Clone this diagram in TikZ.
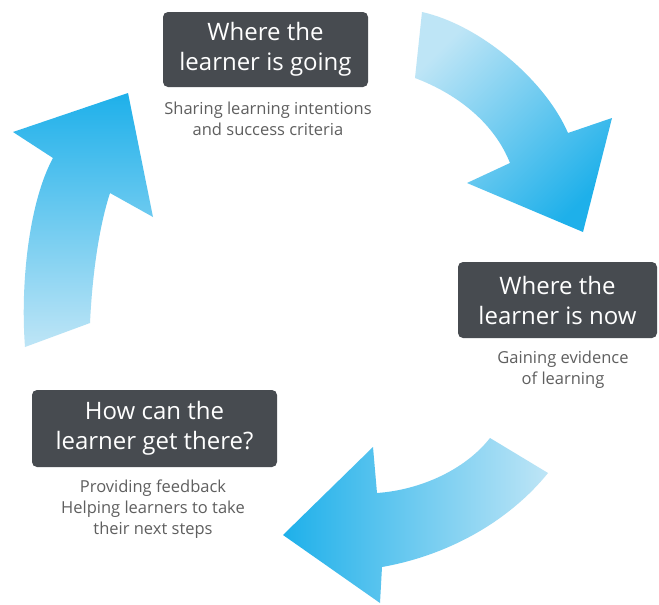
\documentclass[tikz,border=0pt]{standalone}
\usepackage{fontspec}
\setmainfont{Open Sans}
\definecolor{boxgrey}{RGB}{71,75,80}
\definecolor{capgrey}{RGB}{95,95,95}
\definecolor{arrowdeep}{RGB}{30,176,234}
\definecolor{arrowpale}{RGB}{190,229,246}
\begin{document}
\begin{tikzpicture}[x=1pt,y=-1pt,
  stagebox/.style={fill=boxgrey, text=white, rounded corners=5pt, inner sep=0pt,
    align=center, font=\fontsize{24}{30}\selectfont},
  caption/.style={text=capgrey, align=center, inner sep=0pt,
    font=\fontsize{16.5}{21}\selectfont}]
\useasboundingbox[fill=white] (0,0) rectangle (659,605);

% the three curved arrows of the cycle
\shade[top color=arrowdeep, bottom color=arrowpale]
  (25,347) .. controls (20,280) and (30,200) .. (53,158) -- (13,132) -- (128,93)
  -- (153,217) -- (110,193) .. controls (98,230) and (92,280) .. (90,323) -- cycle;
\shade[top color=arrowpale, bottom color=arrowdeep, shading angle=45]
  (422,12) .. controls (480,25) and (545,80) .. (568,133) -- (612,118) -- (583,232)
  -- (467,183) -- (510,163) .. controls (495,125) and (460,95) .. (415,78) -- cycle;
\shade[left color=arrowdeep, right color=arrowpale]
  (548,473) .. controls (510,520) and (450,555) .. (382,567) -- (380,603) -- (283,535)
  -- (373,447) -- (377,493) .. controls (420,490) and (465,470) .. (490,438) -- cycle;

% stages and their notes
\node[stagebox, minimum width=205pt, minimum height=75pt] (going) at (265.5,49.5)
  {Where the\\learner is going};
\node[caption] (goingnote) at (268,119) {Sharing learning intentions\\and success criteria};
\node[stagebox, minimum width=199pt, minimum height=76pt] (now) at (557.5,300)
  {Where the\\learner is now};
\node[caption] (nownote) at (563,370) {Gaining evidence\\of learning};
\node[stagebox, minimum width=245pt, minimum height=77pt] (there) at (154.5,428.5)
  {How can the\\learner get there?};
\node[caption] (therenote) at (153,509) {Providing feedback\\Helping learners to take\\their next steps};
\end{tikzpicture}
\end{document}
